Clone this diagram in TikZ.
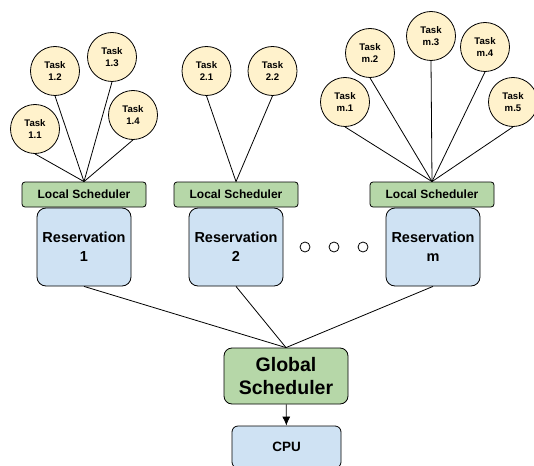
\documentclass[tikz,border=0pt]{standalone}
\usepackage{fontspec}
\setmainfont{Liberation Sans}
\usetikzlibrary{arrows.meta,positioning}
\definecolor{taskyellow}{HTML}{FFF2CC}
\definecolor{schedgreen}{HTML}{B6D7A8}
\definecolor{resblue}{HTML}{CFE2F3}
\tikzstyle{task}=[circle, draw=black, fill=taskyellow, minimum size=49pt, inner sep=0pt, align=center, font=\fontsize{9.6}{11.5}\selectfont\bfseries]
\tikzstyle{local}=[rectangle, rounded corners=3pt, draw=black, fill=schedgreen, minimum width=124pt, minimum height=25pt, inner sep=0pt, font=\fontsize{12}{14}\selectfont\bfseries]
\tikzstyle{resv}=[rectangle, rounded corners=9pt, draw=black, fill=resblue, minimum width=94pt, minimum height=78pt, inner sep=0pt, align=center, font=\fontsize{14.5}{18.7}\selectfont\bfseries]
\tikzstyle{global}=[rectangle, rounded corners=8pt, draw=black, fill=schedgreen, minimum width=124pt, minimum height=56pt, inner sep=0pt, align=center, font=\fontsize{19.5}{22.3}\selectfont\bfseries]
\tikzstyle{cpu}=[rectangle, rounded corners=6pt, draw=black, fill=resblue, minimum width=109pt, minimum height=42pt, inner sep=0pt, font=\fontsize{13.5}{16}\selectfont\bfseries]
\tikzstyle{dot}=[circle, draw=black, fill=white, minimum size=10pt, inner sep=0pt]

\begin{document}
\begin{tikzpicture}[x=1pt, y=-1pt, line width=0.8pt]
      \useasboundingbox (0,0) rectangle (534,465);
      \clip (0,0) rectangle (534,465);
      \fill[white] (0,0) rectangle (534,465);
      % tasks
      \node at (35,129) [task] (t11) {Task\\1.1};
      \node at (55,71) [task] (t12) {Task\\1.2};
      \node at (112,57) [task] (t13) {Task\\1.3};
      \node at (133,115) [task] (t14) {Task\\1.4};
      \node at (206.5,71) [task] (t21) {Task\\2.1};
      \node at (272.5,71) [task] (t22) {Task\\2.2};
      \node at (345,102) [task] (tm1) {Task\\m.1};
      \node at (370,53) [task] (tm2) {Task\\m.2};
      \node at (431,36) [task] (tm3) {Task\\m.3};
      \node at (485,47) [task] (tm4) {Task\\m.4};
      \node at (513,102) [task] (tm5) {Task\\m.5};
      % local schedulers and reservations
      \node at (84,194.5) [local] (ls1) {Local Scheduler};
      \node at (236,194.5) [local] (ls2) {Local Scheduler};
      \node at (432,194.5) [local] (lsm) {Local Scheduler};
      \node at (84,247) [resv] (r1) {Reservation\\1};
      \node at (236,247) [resv] (r2) {Reservation\\2};
      \node at (433,247) [resv] (rm) {Reservation\\m};
      \node at (305,247) [dot] (d1) {};
      \node at (334,247) [dot] (d2) {};
      \node at (363,247) [dot] (d3) {};
      % global scheduler
      \node at (286,376) [global] (gs) {Global\\Scheduler};
      \node at (286.5,447) [cpu] (cpu) {CPU};
      %
      \foreach \t in {t11,t12,t13,t14} \draw (\t.south) -- (ls1.north);
      \foreach \t in {t21,t22} \draw (\t.south) -- (ls2.north);
      \foreach \t in {tm1,tm2,tm3,tm4,tm5} \draw (\t.south) -- (lsm.north);
      \foreach \r in {r1,r2,rm} \draw (\r.south) -- (gs.north);
      \draw[-{Latex[length=9pt,width=8pt]}] (gs) -- (cpu);
\end{tikzpicture}
\end{document}
